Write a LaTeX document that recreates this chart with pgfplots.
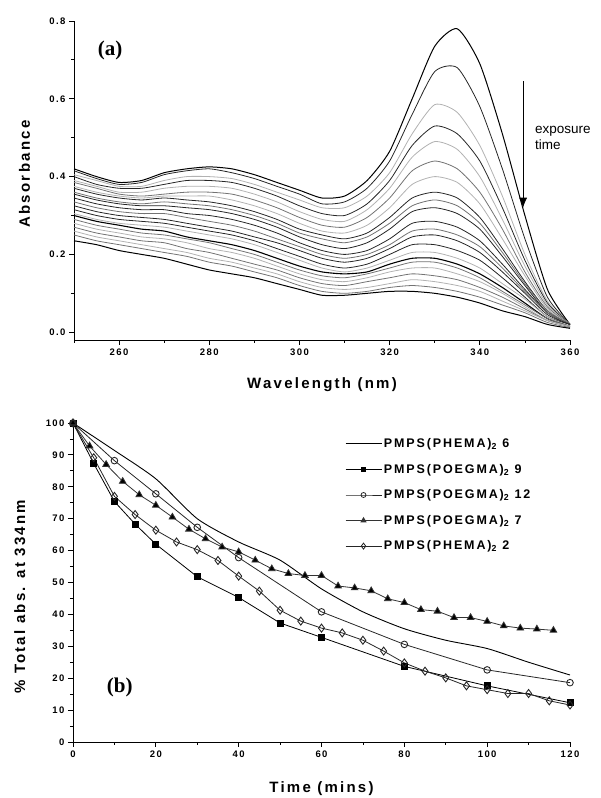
\documentclass[border=0pt]{standalone}
\usepackage{fontspec}
\setmainfont{Liberation Sans}
\newfontfamily\lbl[LetterSpace=15]{Liberation Sans}
\newfontfamily\tnr{Liberation Serif}
\usepackage{pgfplots}
\pgfplotsset{compat=1.18}
\usetikzlibrary{arrows.meta}

\pgfplotsset{
  panel/.style={
    scale only axis,
    axis x line=bottom, axis y line=left,
    axis line style={-, line width=0.9pt},
    tick align=outside,
    major tick length=5pt, minor tick length=3pt,
    every tick/.style={black, line width=0.8pt},
    tick label style={font=\lbl\bfseries\fontsize{9.5}{11}\selectfont},
    /pgf/number format/assume math mode=true,
    label style={font=\lbl\bfseries\fontsize{15}{17}\selectfont},
  },
  dk/.style={black!85, line width=0.8pt, smooth, tension=0.4},
  md/.style={black!55, line width=0.8pt, smooth, tension=0.4},
  lt/.style={black!30, line width=0.8pt, smooth, tension=0.4},
}

\begin{document}
\begin{tikzpicture}
\useasboundingbox (0,0) rectangle (601pt,798pt);

% (a) UV-vis spectra
\begin{axis}[panel,
  at={(74pt,458pt)}, anchor=south west, width=496pt, height=319pt,
  xmin=250, xmax=360, ymin=-0.02, ymax=0.8,
  xtick={260,280,300,320,340,360}, minor xtick={250,270,290,310,330,350},
  ytick={0,0.2,0.4,0.6,0.8}, minor ytick={0.1,0.3,0.5,0.7},
  yticklabel style={/pgf/number format/.cd, fixed, fixed zerofill, precision=1},
  xlabel={Wavelength (nm)}, ylabel={Absorbance},
  xlabel style={at={(axis description cs:0.5,-0.14)}, anchor=center},
  ylabel style={at={(axis description cs:-0.1,0.52)}, anchor=center},
  clip=false]
\addplot[black, line width=1pt, smooth, tension=0.4] coordinates {(250,.42) (255,.40) (260,.385) (265,.39) (270,.41) (275,.42) (280,.425) (285,.42) (290,.405) (295,.385) (300,.365) (305,.345) (310,.35) (315,.39) (320,.465) (325,.60) (330,.735) (335,.78) (340,.69) (345,.51) (350,.30) (355,.11) (360,.02)};
\addplot[dk] coordinates {(250,.415) (255,.395) (260,.38) (265,.385) (270,.405) (275,.415) (280,.42) (285,.41) (290,.395) (295,.375) (300,.355) (305,.33) (310,.335) (315,.37) (320,.44) (325,.56) (330,.67) (335,.68) (340,.58) (345,.42) (350,.24) (355,.09) (360,.02)};
\addplot[lt] coordinates {(250,.405) (255,.39) (260,.375) (265,.375) (270,.39) (275,.40) (280,.40) (285,.395) (290,.38) (295,.36) (300,.34) (305,.32) (310,.32) (315,.35) (320,.41) (325,.51) (330,.585) (335,.565) (340,.48) (345,.35) (350,.20) (355,.08) (360,.02)};
\addplot[dk] coordinates {(250,.40) (255,.38) (260,.37) (265,.37) (270,.38) (275,.39) (280,.39) (285,.385) (290,.37) (295,.35) (300,.325) (305,.305) (310,.30) (315,.33) (320,.39) (325,.48) (330,.53) (335,.51) (340,.44) (345,.32) (350,.185) (355,.075) (360,.02)};
\addplot[lt] coordinates {(250,.39) (255,.375) (260,.36) (265,.36) (270,.37) (275,.375) (280,.375) (285,.37) (290,.355) (295,.335) (300,.31) (305,.29) (310,.285) (315,.315) (320,.37) (325,.45) (330,.49) (335,.47) (340,.40) (345,.29) (350,.17) (355,.07) (360,.02)};
\addplot[md] coordinates {(250,.385) (255,.37) (260,.355) (265,.35) (270,.355) (275,.36) (280,.36) (285,.355) (290,.34) (295,.32) (300,.295) (305,.275) (310,.27) (315,.295) (320,.345) (325,.415) (330,.44) (335,.42) (340,.36) (345,.265) (350,.155) (355,.065) (360,.02)};
\addplot[lt] coordinates {(250,.375) (255,.36) (260,.35) (265,.345) (270,.35) (275,.35) (280,.35) (285,.34) (290,.325) (295,.305) (300,.28) (305,.26) (310,.255) (315,.275) (320,.32) (325,.38) (330,.40) (335,.385) (340,.33) (345,.24) (350,.145) (355,.06) (360,.02)};
\addplot[dk] coordinates {(250,.37) (255,.355) (260,.345) (265,.34) (270,.345) (275,.34) (280,.335) (285,.325) (290,.31) (295,.29) (300,.265) (305,.25) (310,.24) (315,.255) (320,.295) (325,.345) (330,.36) (335,.345) (340,.295) (345,.215) (350,.13) (355,.055) (360,.02)};
\addplot[md] coordinates {(250,.36) (255,.345) (260,.335) (265,.33) (270,.335) (275,.33) (280,.325) (285,.315) (290,.30) (295,.28) (300,.255) (305,.24) (310,.23) (315,.245) (320,.28) (325,.325) (330,.34) (335,.325) (340,.28) (345,.205) (350,.125) (355,.055) (360,.02)};
\addplot[dk] coordinates {(250,.355) (255,.34) (260,.33) (265,.325) (270,.325) (275,.32) (280,.315) (285,.305) (290,.29) (295,.27) (300,.245) (305,.225) (310,.215) (315,.23) (320,.265) (325,.31) (330,.32) (335,.305) (340,.265) (345,.195) (350,.12) (355,.05) (360,.02)};
\addplot[dk] coordinates {(250,.345) (255,.33) (260,.32) (265,.315) (270,.315) (275,.305) (280,.30) (285,.29) (290,.275) (295,.255) (300,.23) (305,.21) (310,.20) (315,.21) (320,.24) (325,.28) (330,.285) (335,.27) (340,.235) (345,.175) (350,.11) (355,.05) (360,.02)};
\addplot[md] coordinates {(250,.335) (255,.32) (260,.31) (265,.305) (270,.305) (275,.295) (280,.285) (285,.275) (290,.26) (295,.24) (300,.22) (305,.20) (310,.19) (315,.20) (320,.225) (325,.26) (330,.265) (335,.25) (340,.22) (345,.165) (350,.105) (355,.05) (360,.02)};
\addplot[dk] coordinates {(250,.325) (255,.31) (260,.30) (265,.295) (270,.29) (275,.28) (280,.27) (285,.26) (290,.245) (295,.23) (300,.21) (305,.19) (310,.18) (315,.19) (320,.215) (325,.245) (330,.25) (335,.235) (340,.205) (345,.155) (350,.10) (355,.045) (360,.02)};
\addplot[dk] coordinates {(250,.315) (255,.30) (260,.29) (265,.285) (270,.28) (275,.27) (280,.26) (285,.25) (290,.235) (295,.215) (300,.195) (305,.175) (310,.165) (315,.175) (320,.20) (325,.225) (330,.225) (335,.21) (340,.185) (345,.14) (350,.09) (355,.04) (360,.02)};
\addplot[lt] coordinates {(250,.305) (255,.29) (260,.28) (265,.275) (270,.27) (275,.26) (280,.25) (285,.24) (290,.225) (295,.205) (300,.185) (305,.165) (310,.155) (315,.165) (320,.185) (325,.205) (330,.205) (335,.19) (340,.165) (345,.125) (350,.085) (355,.04) (360,.015)};
\addplot[black, line width=1.1pt, smooth, tension=0.4] coordinates {(250,.30) (255,.285) (260,.275) (265,.265) (270,.26) (275,.245) (280,.235) (285,.225) (290,.21) (295,.19) (300,.17) (305,.155) (310,.15) (315,.155) (320,.175) (325,.19) (330,.19) (335,.175) (340,.15) (345,.115) (350,.075) (355,.035) (360,.015)};
\addplot[md] coordinates {(250,.29) (255,.275) (260,.265) (265,.255) (270,.25) (275,.24) (280,.23) (285,.215) (290,.20) (295,.18) (300,.16) (305,.145) (310,.14) (315,.15) (320,.165) (325,.18) (330,.18) (335,.165) (340,.14) (345,.105) (350,.07) (355,.035) (360,.015)};
\addplot[lt] coordinates {(250,.28) (255,.265) (260,.255) (265,.245) (270,.24) (275,.23) (280,.215) (285,.205) (290,.19) (295,.17) (300,.15) (305,.135) (310,.13) (315,.14) (320,.155) (325,.165) (330,.165) (335,.15) (340,.13) (345,.10) (350,.065) (355,.03) (360,.015)};
\addplot[md] coordinates {(250,.27) (255,.255) (260,.245) (265,.235) (270,.23) (275,.215) (280,.205) (285,.19) (290,.175) (295,.16) (300,.14) (305,.125) (310,.12) (315,.13) (320,.14) (325,.15) (330,.145) (335,.135) (340,.115) (345,.09) (350,.06) (355,.03) (360,.015)};
\addplot[lt] coordinates {(250,.26) (255,.245) (260,.235) (265,.225) (270,.215) (275,.205) (280,.19) (285,.18) (290,.165) (295,.15) (300,.13) (305,.115) (310,.11) (315,.115) (320,.125) (325,.135) (330,.13) (335,.12) (340,.105) (345,.08) (350,.055) (355,.03) (360,.015)};
\addplot[md] coordinates {(250,.25) (255,.235) (260,.225) (265,.215) (270,.205) (275,.195) (280,.18) (285,.17) (290,.155) (295,.14) (300,.12) (305,.105) (310,.10) (315,.105) (320,.115) (325,.12) (330,.115) (335,.105) (340,.09) (345,.07) (350,.05) (355,.025) (360,.012)};
\addplot[black, line width=1pt, smooth, tension=0.4] coordinates {(250,.235) (255,.225) (260,.21) (265,.20) (270,.19) (275,.175) (280,.16) (285,.15) (290,.14) (295,.125) (300,.11) (305,.095) (310,.095) (315,.10) (320,.105) (325,.105) (330,.10) (335,.09) (340,.075) (345,.055) (350,.04) (355,.02) (360,.01)};
\node[font=\tnr\bfseries\fontsize{21}{23}\selectfont] at (axis cs:258,0.725) {(a)};
\draw[-{Latex[length=10pt,width=8pt]}, line width=0.9pt] (axis cs:349.6,0.645) -- (axis cs:349.6,0.32);
\node[anchor=west, align=left, font=\fontsize{13.5}{16}\selectfont, inner sep=0pt] at (axis cs:352.2,0.50) {exposure\\time};
\end{axis}

% (b) decay of the 334 nm band
\begin{axis}[panel,
  at={(73pt,56pt)}, anchor=south west, width=497pt, height=319pt,
  xmin=0, xmax=120, ymin=0, ymax=100,
  xtick={0,20,...,120}, minor xtick={10,30,...,110},
  ytick={0,10,...,100}, minor ytick={5,15,...,95},
  xlabel={Time (mins)}, ylabel={\% Total abs. at 334nm},
  xlabel style={at={(axis description cs:0.5,-0.147)}, anchor=center},
  ylabel style={at={(axis description cs:-0.107,0.455)}, anchor=center},
  legend style={at={(axis description cs:0.547,0.958)}, anchor=north west,
    draw=none, fill=none, row sep=11pt, inner sep=0pt,
    font=\lbl\bfseries\fontsize{12.5}{14}\selectfont},
  legend cell align=left,
  legend image code/.code={\draw[mark repeat=2, mark phase=2, #1, mark options={scale=0.75}] plot coordinates {(0pt,0pt) (18pt,0pt) (36pt,0pt)};},
  clip=false]
\addplot[black, line width=0.9pt, smooth, tension=0.4] coordinates {(0,100) (10,91.4) (20,82.5) (30,70) (40,62.7) (50,57) (60,48) (70,40.8) (80,35.5) (90,31.9) (100,29.3) (110,25) (120,21)};
\addlegendentry{PMPS(PHEMA)\textsubscript{2} 6}
\addplot[black, line width=0.8pt, mark=square*, mark size=3pt, mark options={solid, fill=black}] coordinates {(0,100) (5,87.3) (10,75.4) (15,68.3) (20,62) (30,51.8) (40,45.3) (50,37.3) (60,32.8) (80,23.7) (100,17.6) (120,12.3)};
\addlegendentry{PMPS(POEGMA)\textsubscript{2} 9}
\addplot[black!85, line width=0.8pt, mark=o, mark size=3.3pt, mark options={solid, fill=white, line width=0.9pt}] coordinates {(0,100) (10,88.2) (20,77.8) (30,67.3) (40,57.8) (60,40.8) (80,30.6) (100,22.6) (120,18.6)};
\addlegendentry{PMPS(POEGMA)\textsubscript{2} 12}
\addplot[black!80, line width=0.8pt, mark=triangle*, mark size=3.8pt, mark options={solid, fill=black}] coordinates {(0,100) (4,92.8) (8,87) (12,81.7) (16,77.5) (20,74.2) (24,70.5) (28,66.7) (32,63.7) (36,61.1) (40,59.6) (44,57) (48,54.3) (52,52.8) (56,52.2) (60,52.2) (64,48.9) (68,48.3) (72,47.4) (76,44.9) (80,43.7) (84,41.5) (88,41) (92,39) (96,39) (100,37.8) (104,36.4) (108,35.7) (112,35.4) (116,35)};
\addlegendentry{PMPS(POEGMA)\textsubscript{2} 7}
\addplot[black!85, line width=0.8pt, mark=diamond, mark size=4pt, mark options={solid, fill=white, line width=0.9pt}] coordinates {(0,100) (5,89.1) (10,77) (15,71.3) (20,66.4) (25,62.7) (30,60.3) (35,56.9) (40,52) (45,47.3) (50,41.3) (55,37.9) (60,35.7) (65,34.2) (70,31.9) (75,28.5) (80,24.8) (85,22.2) (90,20.1) (95,17.6) (100,16.4) (105,15.2) (110,15.2) (115,12.9) (120,11.6)};
\addlegendentry{PMPS(PHEMA)\textsubscript{2} 2}
\node[font=\tnr\bfseries\fontsize{21}{23}\selectfont] at (axis cs:11.3,17.2) {(b)};
\end{axis}
\end{tikzpicture}
\end{document}
